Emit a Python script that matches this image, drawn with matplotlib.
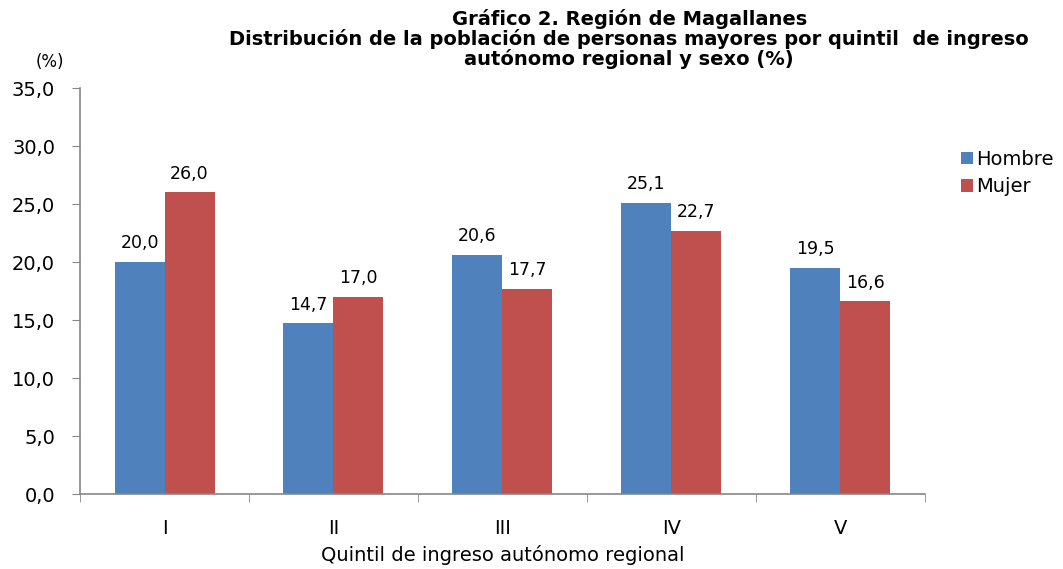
import matplotlib.pyplot as plt
import numpy as np

# Data
quintiles = ["I", "II", "III", "IV", "V"]
hombre = [20.0, 14.7, 20.6, 25.1, 19.5]
mujer = [26.0, 17.0, 17.7, 22.7, 16.6]

BLUE = "#4f81bd"
RED = "#c0504d"
GREY = "#868686"

plt.rcParams["font.family"] = "DejaVu Sans"

fig = plt.figure(figsize=(10.63, 5.69), dpi=100)
ax = fig.add_axes([0.0753, 0.1318, 0.7947, 0.7135])

x = np.arange(len(quintiles))
w = 0.296
b1 = ax.bar(x - w / 2, hombre, w, color=BLUE, label="Hombre")
b2 = ax.bar(x + w / 2, mujer, w, color=RED, label="Mujer")

def fmt(v):
    return f"{v:.1f}".replace(".", ",")

for bars, vals in ((b1, hombre), (b2, mujer)):
    for rect, v in zip(bars, vals):
        ax.annotate(fmt(v), (rect.get_x() + rect.get_width() / 2, v),
                    xytext=(0, 7), textcoords="offset points",
                    ha="center", va="bottom", fontsize=12.5)

ax.set_xlim(-0.5, len(quintiles) - 0.5)
ax.set_ylim(0, 35)
ax.set_yticks(np.arange(0, 35.1, 5))
ax.set_yticklabels([fmt(v) for v in np.arange(0, 35.1, 5)], fontsize=14)

ax.set_xticks(x)
ax.set_xticklabels(quintiles, fontsize=14)
ax.set_xticks(np.arange(-0.5, len(quintiles)), minor=True)
ax.tick_params(axis="x", which="major", length=0, pad=18)
ax.tick_params(axis="x", which="minor", length=6, color=GREY, direction="out")
ax.tick_params(axis="y", length=6, color=GREY, direction="out", pad=12)

for s in ("top", "right"):
    ax.spines[s].set_visible(False)
for s in ("left", "bottom"):
    ax.spines[s].set_color(GREY)
    ax.spines[s].set_linewidth(1.2)

ax.set_xlabel("Quintil de ingreso autónomo regional", fontsize=14, labelpad=5)

fig.text(0.047, 0.891, "(%)", fontsize=12, ha="center", va="center")
fig.text(0.592, 0.985, "Gráfico 2. Región de Magallanes\n"
         "Distribución de la población de personas mayores por quintil  de ingreso\n"
         "autónomo regional y sexo (%)",
         fontsize=14, fontweight="bold", ha="center", va="top", linespacing=1.0)

ax.legend(loc="upper left", bbox_to_anchor=(0.904, 0.737),
          bbox_transform=fig.transFigure, frameon=False,
          fontsize=14, handlelength=0.6, handleheight=0.6, handletextpad=0.2,
          labelspacing=0.45, borderaxespad=0, borderpad=0)

fig.savefig("out.png", dpi=100)
